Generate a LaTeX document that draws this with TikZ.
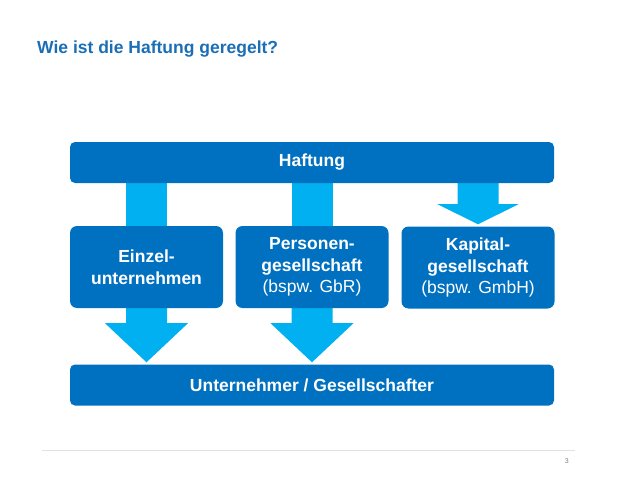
\documentclass[tikz,border=0pt]{standalone}
\usepackage{fontspec}
\setmainfont{Liberation Sans}
\usetikzlibrary{calc,backgrounds}
\definecolor{boxblue}{HTML}{0070C0}
\definecolor{arrowblue}{HTML}{00B0F0}
\definecolor{titleblue}{HTML}{1A6EB6}
\definecolor{footgray}{HTML}{E2E2E2}
\definecolor{pagegray}{HTML}{7F7F7F}
\tikzset{
  bluebar/.style={fill=boxblue, rounded corners=5pt, inner sep=0pt, text=white,
    font=\fontsize{17.5}{21.5}\selectfont\bfseries, minimum width=484pt, minimum height=41pt},
  bluebox/.style={fill=boxblue, rounded corners=7pt, inner sep=0pt, text=white, align=center,
    font=\fontsize{17.5}{21.5}\selectfont, minimum width=153pt, minimum height=82pt},
  flow/.style={fill=arrowblue}
}
\begin{document}
\begin{tikzpicture}[x=1pt,y=-1pt]
\useasboundingbox (0,0) rectangle (638,479);
% title
\node[anchor=base west, inner sep=0pt, text=titleblue, font=\fontsize{17.5}{21}\selectfont\bfseries] (title) at (37,53) {Wie ist die Haftung geregelt?};
% nodes
\node[bluebar] (haft) at (312,162.5) {Haftung};
\node[bluebox] (e) at (146.5,267) {\textbf{Einzel-}\\\textbf{unternehmen}};
\node[bluebox] (p) at (312,267) {\textbf{Personen-}\\\textbf{gesellschaft}\\(bspw. GbR)};
\node[bluebox] (k) at (478,267.5) {\textbf{Kapital-}\\\textbf{gesellschaft}\\(bspw. GmbH)};
\node[bluebar] (u) at (312,385) {Unternehmer / Gesellschafter};
% arrows behind the boxes
\begin{pgfonlayer}{background}
  % Haftung -> Einzelunternehmen / Personengesellschaft (plain shafts)
  \fill[flow] ($(e.north |- haft.south)+(-20.5,-2)$) rectangle ($(e.north)+(20.5,2)$);
  \fill[flow] ($(p.north |- haft.south)+(-20.5,-2)$) rectangle ($(p.north)+(20.5,2)$);
  % Haftung -> Kapitalgesellschaft
  \fill[flow] ($(k.north |- haft.south)+(-20.5,-2)$) -- ++(0,23) -- ++(-20,0)
     -- ($(k.north)+(0,-2)$) -- ($(k.north |- haft.south)+(40.5,21)$) -- ++(-20,0) -- ++(0,-23) -- cycle;
  % Einzelunternehmen -> Unternehmer
  \fill[flow] ($(e.south)+(-20.5,-2)$) -- ++(0,17) -- ++(-21,0)
     -- ($(e.south |- u.north)+(0,-2)$) -- ($(e.south)+(41.5,15)$) -- ++(-21,0) -- ++(0,-17) -- cycle;
  % Personengesellschaft -> Unternehmer
  \fill[flow] ($(p.south)+(-20.5,-2)$) -- ++(0,17) -- ++(-21,0)
     -- ($(p.south |- u.north)+(0,-2)$) -- ($(p.south)+(41.5,15)$) -- ++(-21,0) -- ++(0,-17) -- cycle;
\end{pgfonlayer}
% footer
\coordinate (fl) at (42,450);
\coordinate (fr) at (575,450);
\draw[footgray, line width=0.8pt] (fl) -- (fr);
\node[anchor=base east, inner sep=0pt, text=pagegray, font=\fontsize{7}{8}\selectfont] (pg) at (569,463) {3};
\end{tikzpicture}
\end{document}
